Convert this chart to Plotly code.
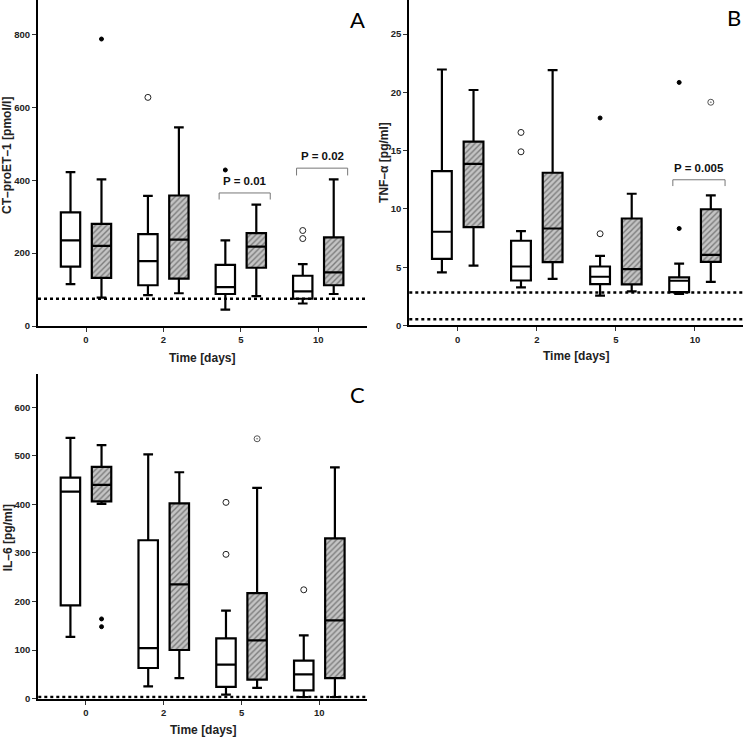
import plotly.graph_objects as go

W, H = 745, 744

DAYS = ["0", "2", "5", "10"]

# box stats per day: (lower whisker, Q1, median, Q3, upper whisker)
ct_open = [(115, 163, 235, 312, 422), (85, 112, 178, 252, 357), (45, 88, 107, 168, 235), (62, 75, 95, 138, 170)]
ct_hatch = [(78, 132, 220, 280, 402), (90, 130, 237, 358, 545), (82, 160, 218, 255, 333), (88, 112, 147, 243, 402)]
# outliers: (day index, group 0=open/1=hatched, value)
ct_circles = [(1, 0, 627), (3, 0, 262), (3, 0, 240)]
ct_extremes = [(0, 1, 787), (2, 0, 428)]
ct_dotcircles = []
ct_cutoffs = [75]
# (day index, label, bracket foot, bracket top)
ct_pvals = [(2, "P = 0.01", 347, 365), (3, "P = 0.02", 413, 433)]

tnf_open = [(4.55, 5.71, 8.04, 13.24, 21.96), (3.27, 3.86, 5.06, 7.27, 8.1), (2.56, 3.55, 4.18, 5.06, 5.97), (2.7, 2.87, 3.84, 4.12, 5.31)]
tnf_hatch = [(5.14, 8.44, 13.86, 15.77, 20.2), (4.0, 5.43, 8.32, 13.1, 21.9), (2.93, 3.52, 4.83, 9.18, 11.3), (3.75, 5.45, 6.05, 9.97, 11.16)]
tnf_circles = [(1, 0, 16.56), (1, 0, 14.9), (2, 0, 7.87)]
tnf_extremes = [(2, 0, 17.8), (3, 0, 20.85), (3, 0, 8.32)]
tnf_dotcircles = [(3, 1, 19.15)]
tnf_cutoffs = [2.84, 0.54]
tnf_pvals = [(3, "P = 0.005", 11.96, 12.5)]

il_open = [(127, 192, 426, 455, 537), (25, 63, 104, 326, 503), (8, 24, 70, 124, 181), (3, 17, 50, 78, 130)]
il_hatch = [(401, 406, 440, 477, 522), (42, 100, 235, 402, 466), (22, 39, 120, 217, 434), (3, 42, 161, 330, 476)]
il_circles = [(2, 0, 404), (2, 0, 297), (3, 0, 224)]
il_extremes = [(0, 1, 164), (0, 1, 148)]
il_dotcircles = [(2, 1, 535)]
il_cutoffs = [3]
il_pvals = []

OFFSET = [-0.2, 0.2]
BOX_W = 0.25
TICK_FONT = dict(family="Liberation Sans Narrow, Arial Narrow, Liberation Sans, sans-serif", size=9.5, color="#222", weight="bold")
TITLE_FONT = dict(family="Liberation Sans, Arial, sans-serif", size=12, color="#222", weight="bold")

fig = go.Figure()


def px_x(v):
    return v / W


def px_y(v):
    return 1 - v / H


def add_panel(xa, ya, open_stats, hatch_stats, circles, extremes, dotcircles, cutoffs, pvals):
    for grp, stats in enumerate([open_stats, hatch_stats]):
        xs = [i + OFFSET[grp] for i in range(len(stats))]
        lo, q1, med, q3, hi = (list(s) for s in zip(*stats))
        if grp == 1:
            fig.add_trace(go.Bar(
                x=xs, base=q1, y=[b - a for a, b in zip(q1, q3)], width=BOX_W,
                marker=dict(color="#bdbdbd", line=dict(width=0),
                            pattern=dict(shape="/", fgcolor="#333", bgcolor="#c4c4c4", size=4, solidity=0.35)),
                xaxis=xa, yaxis=ya, showlegend=False, hoverinfo="skip",
            ))
        fig.add_trace(go.Box(
            x=xs, q1=q1, median=med, q3=q3, lowerfence=lo, upperfence=hi,
            width=BOX_W, whiskerwidth=0.5,
            fillcolor="rgba(0,0,0,0)" if grp == 1 else "white",
            line=dict(color="black", width=2.2),
            xaxis=xa, yaxis=ya, showlegend=False,
        ))

    for pts, sym, size, col in [(circles, "circle-open", 6, "#222"),
                                (extremes, "circle", 4, "black"),
                                (dotcircles, "circle-open-dot", 6, "#555")]:
        if not pts:
            continue
        fig.add_trace(go.Scatter(
            x=[d + OFFSET[g] for d, g, _ in pts], y=[v for _, _, v in pts], mode="markers",
            marker=dict(symbol=sym, size=size, color=col, line=dict(width=1, color=col)),
            xaxis=xa, yaxis=ya, showlegend=False,
        ))

    for c in cutoffs:
        fig.add_shape(type="line", xref=xa + " domain", yref=ya, x0=0, x1=1, y0=c, y1=c,
                      line=dict(color="black", width=2.5, dash="dot"))

    for d, label, foot, top in pvals:
        x0, x1 = d - 0.28, d + 0.38
        fig.add_trace(go.Scatter(
            x=[x0, x0, x1, x1], y=[foot, top, top, foot], mode="lines",
            line=dict(color="#777", width=1), xaxis=xa, yaxis=ya, showlegend=False, hoverinfo="skip",
        ))
        fig.add_annotation(x=(x0 + x1) / 2, y=top, xref=xa, yref=ya, text=label, showarrow=False,
                           yshift=12, font=dict(family=TICK_FONT["family"], size=11.5, color="#111", weight="bold"))


add_panel("x", "y", ct_open, ct_hatch, ct_circles, ct_extremes, ct_dotcircles, ct_cutoffs, ct_pvals)
add_panel("x2", "y2", tnf_open, tnf_hatch, tnf_circles, tnf_extremes, tnf_dotcircles, tnf_cutoffs, tnf_pvals)
add_panel("x3", "y3", il_open, il_hatch, il_circles, il_extremes, il_dotcircles, il_cutoffs, il_pvals)

ax = dict(showline=True, linecolor="black", linewidth=2, ticks="outside", ticklen=4, tickwidth=1.2,
          tickcolor="#333", showgrid=False, zeroline=False, tickfont=TICK_FONT, fixedrange=True)

fig.update_layout(
    width=W, height=H, margin=dict(l=0, r=0, t=0, b=0),
    plot_bgcolor="white", paper_bgcolor="white", showlegend=False, boxmode="overlay",
    xaxis=dict(ax, domain=[px_x(38), px_x(367)], range=[-0.62, 3.63], anchor="y",
               tickvals=[0, 1, 2, 3], ticktext=DAYS),
    yaxis=dict(ax, domain=[px_y(328.3), 1], range=[0, 894], anchor="x", dtick=200),
    xaxis2=dict(ax, domain=[px_x(409.3), px_x(743)], range=[-0.612, 3.607], anchor="y2",
                tickvals=[0, 1, 2, 3], ticktext=DAYS),
    yaxis2=dict(ax, domain=[px_y(327.7), 1], range=[0, 27.92], anchor="x2", dtick=5),
    xaxis3=dict(ax, domain=[px_x(38.3), px_x(367)], range=[-0.613, 3.613], anchor="y3",
                tickvals=[0, 1, 2, 3], ticktext=DAYS),
    yaxis3=dict(ax, domain=[px_y(703.3), px_y(376.7)], range=[0, 668], anchor="x3", dtick=100),
)

# axis titles and panel letters
labels = [
    ("CT–proET–1 [pmol/l]", 7, 157, -90),
    ("Time [days]", 202, 360, 0),
    ("TNF–α [pg/ml]", 384, 164, -90),
    ("Time [days]", 576, 358, 0),
    ("IL–6 [pg/ml]", 8, 542, -90),
    ("Time [days]", 203, 735, 0),
]
for text, x, y, ang in labels:
    fig.add_annotation(x=px_x(x), y=px_y(y), xref="paper", yref="paper", text=text, textangle=ang,
                       showarrow=False, xanchor="center", yanchor="middle", font=TITLE_FONT)

for letter, x, y in [("A", 357, 20), ("B", 734, 18), ("C", 357, 397)]:
    fig.add_annotation(x=px_x(x), y=px_y(y), xref="paper", yref="paper", text=letter, showarrow=False,
                       xanchor="center", yanchor="middle",
                       font=dict(family="Lato, Open Sans, sans-serif", size=22, color="black"))

# drop the default page margin so the figure sits at the window's corner
fig.write_html("out.html", config={"displayModeBar": False},
               post_script="document.body.style.margin='0';")
